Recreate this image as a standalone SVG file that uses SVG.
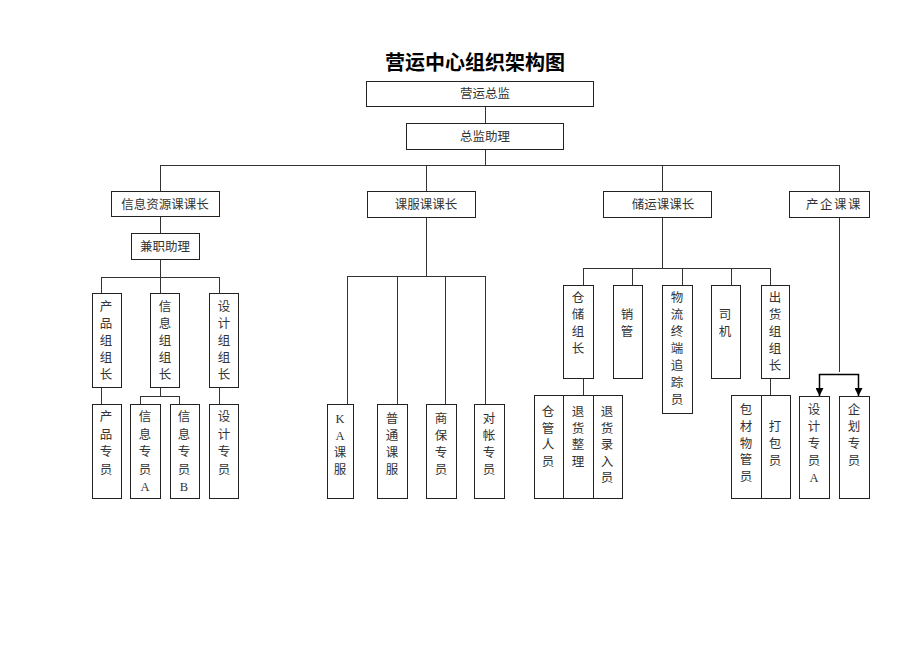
<svg xmlns="http://www.w3.org/2000/svg" width="920" height="651" viewBox="0 0 920 651">
<defs>
<style>
.b{fill:#fff;stroke:#222;stroke-width:1}
.t{font-family:"Liberation Serif","Noto Sans CJK SC",serif;font-size:12.5px;fill:#333;text-anchor:middle}
.ttl{font-family:"Liberation Serif","Noto Sans CJK SC",serif;font-size:20px;font-weight:bold;fill:#000;text-anchor:middle}
.c{fill:none;stroke:#333;stroke-width:1}
.a{fill:none;stroke:#000;stroke-width:1.5}
</style>
<marker id="ar" viewBox="0 0 10 10" refX="10" refY="5" markerWidth="8" markerHeight="8" markerUnits="userSpaceOnUse" orient="auto">
<path d="M0,0 L10,5 L0,10 z" fill="#000"/>
</marker>
</defs>
<rect width="920" height="651" fill="#fff"/>
<text class="ttl" x="475" y="70">营运中心组织架构图</text>

<g id="connectors">
<path class="c" d="M485.5,106 V123 M485.5,149 V165.5 M160,165.5 H839.5"/>
<path class="c" d="M160.5,165 V191 M426.5,165 V191 M662.5,165 V191 M839.5,165 V191"/>
<path class="c" d="M160.5,216 V233 M160.5,259 V277.5 M101,277.5 H219.5 M101.5,277 V293 M160.5,277 V293 M219.5,277 V293"/>
<path class="c" d="M101.5,387 V404 M219.5,387 V404 M160.5,387 V396.5 M140,396.5 H179.5 M140.5,396 V404 M179.5,396 V404"/>
<path class="c" d="M426.5,217 V276.5 M347,276.5 H485.5 M347.5,276 V404 M397.5,276 V404 M445.5,276 V404 M485.5,276 V404"/>
<path class="c" d="M662.5,217 V268.5 M583,268.5 H770.5 M583.5,268 V285 M632.5,268 V285 M682.5,268 V285 M731.5,268 V285 M770.5,268 V285"/>
<path class="c" d="M583.5,378 V395 M770.5,378 V395"/>
<path class="c" d="M839.5,217 V372"/>
<path class="a" d="M818.8,374.5 H859.2"/>
<path class="a" d="M819.5,374.5 V396" marker-end="url(#ar)"/>
<path class="a" d="M858.5,374.5 V396" marker-end="url(#ar)"/>
</g>

<g id="n-yyzj"><rect class="b" x="366.5" y="81.5" width="227" height="25"/><text class="t" x="485" y="98">营运总监</text></g>
<g id="n-zjzl"><rect class="b" x="406.5" y="123.5" width="157" height="26"/><text class="t" x="485" y="141">总监助理</text></g>

<g id="n-xxzy"><rect class="b" x="111.5" y="191.5" width="108" height="25"/><text class="t" x="165" y="209">信息资源课课长</text></g>
<g id="n-kfk"><rect class="b" x="367.5" y="191.5" width="108" height="26"/><text class="t" x="426" y="209">课服课课长</text></g>
<g id="n-cyk"><rect class="b" x="603.5" y="191.5" width="108" height="26"/><text class="t" x="663" y="209">储运课课长</text></g>
<g id="n-cqk"><rect class="b" x="789.5" y="191.5" width="80" height="26"/><text class="t" x="834" y="209" letter-spacing="1.5">产企课课</text></g>

<g id="n-jzzl"><rect class="b" x="131.5" y="233.5" width="68" height="26"/><text class="t" x="165" y="251">兼职助理</text></g>

<g id="n-cpzz"><rect class="b" x="92.5" y="293.5" width="29" height="94"/><text class="t" x="106" y="311"><tspan x="106">产</tspan><tspan x="106" dy="17">品</tspan><tspan x="106" dy="17">组</tspan><tspan x="106" dy="17">组</tspan><tspan x="106" dy="17">长</tspan></text></g>
<g id="n-xxzz"><rect class="b" x="150.5" y="293.5" width="29" height="94"/><text class="t" x="165" y="311"><tspan x="165">信</tspan><tspan x="165" dy="17">息</tspan><tspan x="165" dy="17">组</tspan><tspan x="165" dy="17">组</tspan><tspan x="165" dy="17">长</tspan></text></g>
<g id="n-sjzz"><rect class="b" x="209.5" y="293.5" width="29" height="94"/><text class="t" x="224" y="311"><tspan x="224">设</tspan><tspan x="224" dy="17">计</tspan><tspan x="224" dy="17">组</tspan><tspan x="224" dy="17">组</tspan><tspan x="224" dy="17">长</tspan></text></g>

<g id="n-cpzy"><rect class="b" x="92.5" y="404.5" width="29" height="94"/><text class="t" x="106" y="421"><tspan x="106">产</tspan><tspan x="106" dy="17.5">品</tspan><tspan x="106" dy="17.5">专</tspan><tspan x="106" dy="17.5">员</tspan></text></g>
<g id="n-xxzya"><rect class="b" x="130.5" y="404.5" width="30" height="94"/><text class="t" x="145" y="421"><tspan x="145">信</tspan><tspan x="145" dy="17.5">息</tspan><tspan x="145" dy="17.5">专</tspan><tspan x="145" dy="17.5">员</tspan><tspan x="145" dy="17.5">A</tspan></text></g>
<g id="n-xxzyb"><rect class="b" x="170.5" y="404.5" width="29" height="94"/><text class="t" x="184" y="421"><tspan x="184">信</tspan><tspan x="184" dy="17.5">息</tspan><tspan x="184" dy="17.5">专</tspan><tspan x="184" dy="17.5">员</tspan><tspan x="184" dy="17.5">B</tspan></text></g>
<g id="n-sjzy"><rect class="b" x="209.5" y="404.5" width="29" height="94"/><text class="t" x="224" y="421"><tspan x="224">设</tspan><tspan x="224" dy="17.5">计</tspan><tspan x="224" dy="17.5">专</tspan><tspan x="224" dy="17.5">员</tspan></text></g>

<g id="n-kakf"><rect class="b" x="327.5" y="404.5" width="26" height="94"/><text class="t" x="340" y="423"><tspan x="340">K</tspan><tspan x="340" dy="17">A</tspan><tspan x="340" dy="17">课</tspan><tspan x="340" dy="17">服</tspan></text></g>
<g id="n-ptkf"><rect class="b" x="377.5" y="404.5" width="30" height="94"/><text class="t" x="392" y="423"><tspan x="392">普</tspan><tspan x="392" dy="17">通</tspan><tspan x="392" dy="17">课</tspan><tspan x="392" dy="17">服</tspan></text></g>
<g id="n-sbzy"><rect class="b" x="426.5" y="404.5" width="30" height="94"/><text class="t" x="441" y="423"><tspan x="441">商</tspan><tspan x="441" dy="17">保</tspan><tspan x="441" dy="17">专</tspan><tspan x="441" dy="17">员</tspan></text></g>
<g id="n-dzzy"><rect class="b" x="474.5" y="404.5" width="30" height="94"/><text class="t" x="489" y="423"><tspan x="489">对</tspan><tspan x="489" dy="17">帐</tspan><tspan x="489" dy="17">专</tspan><tspan x="489" dy="17">员</tspan></text></g>

<g id="n-cczz"><rect class="b" x="563.5" y="285.5" width="30" height="93"/><text class="t" x="578" y="302"><tspan x="578">仓</tspan><tspan x="578" dy="17">储</tspan><tspan x="578" dy="17">组</tspan><tspan x="578" dy="17">长</tspan></text></g>
<g id="n-xg"><rect class="b" x="613.5" y="285.5" width="29" height="93"/><text class="t" x="627" y="319"><tspan x="627">销</tspan><tspan x="627" dy="17">管</tspan></text></g>
<g id="n-wl"><rect class="b" x="662.5" y="285.5" width="30" height="128"/><text class="t" x="677" y="302"><tspan x="677">物</tspan><tspan x="677" dy="17">流</tspan><tspan x="677" dy="17">终</tspan><tspan x="677" dy="17">端</tspan><tspan x="677" dy="17">追</tspan><tspan x="677" dy="17">踪</tspan><tspan x="677" dy="17">员</tspan></text></g>
<g id="n-sj"><rect class="b" x="711.5" y="285.5" width="29" height="93"/><text class="t" x="725" y="319"><tspan x="725">司</tspan><tspan x="725" dy="17">机</tspan></text></g>
<g id="n-chzz"><rect class="b" x="761.5" y="285.5" width="28" height="93"/><text class="t" x="775" y="302"><tspan x="775">出</tspan><tspan x="775" dy="17">货</tspan><tspan x="775" dy="17">组</tspan><tspan x="775" dy="17">组</tspan><tspan x="775" dy="17">长</tspan></text></g>

<g id="n-cgry"><rect class="b" x="534.5" y="395.5" width="29" height="103"/><text class="t" x="548" y="416"><tspan x="548">仓</tspan><tspan x="548" dy="16.5">管</tspan><tspan x="548" dy="16.5">人</tspan><tspan x="548" dy="16.5">员</tspan></text></g>
<g id="n-thzl"><rect class="b" x="563.5" y="395.5" width="30" height="103"/><text class="t" x="578" y="416"><tspan x="578">退</tspan><tspan x="578" dy="16.5">货</tspan><tspan x="578" dy="16.5">整</tspan><tspan x="578" dy="16.5">理</tspan></text></g>
<g id="n-thlr"><rect class="b" x="593.5" y="395.5" width="29" height="103"/><text class="t" x="607" y="416"><tspan x="607">退</tspan><tspan x="607" dy="16.5">货</tspan><tspan x="607" dy="16.5">录</tspan><tspan x="607" dy="16.5">入</tspan><tspan x="607" dy="16.5">员</tspan></text></g>

<g id="n-bcwg"><rect class="b" x="731.5" y="395.5" width="30" height="103"/><text class="t" x="746" y="414"><tspan x="746">包</tspan><tspan x="746" dy="16.8">材</tspan><tspan x="746" dy="16.8">物</tspan><tspan x="746" dy="16.8">管</tspan><tspan x="746" dy="16.8">员</tspan></text></g>
<g id="n-dby"><rect class="b" x="761.5" y="395.5" width="29" height="103"/><text class="t" x="775" y="431"><tspan x="775">打</tspan><tspan x="775" dy="16.8">包</tspan><tspan x="775" dy="16.8">员</tspan></text></g>

<g id="n-sjzya"><rect class="b" x="799.5" y="396.5" width="30" height="102"/><text class="t" x="814" y="414"><tspan x="814">设</tspan><tspan x="814" dy="17">计</tspan><tspan x="814" dy="17">专</tspan><tspan x="814" dy="17">员</tspan><tspan x="814" dy="17">A</tspan></text></g>
<g id="n-qhzy"><rect class="b" x="839.5" y="396.5" width="30" height="102"/><text class="t" x="854" y="414"><tspan x="854">企</tspan><tspan x="854" dy="17">划</tspan><tspan x="854" dy="17">专</tspan><tspan x="854" dy="17">员</tspan></text></g>
</svg>
